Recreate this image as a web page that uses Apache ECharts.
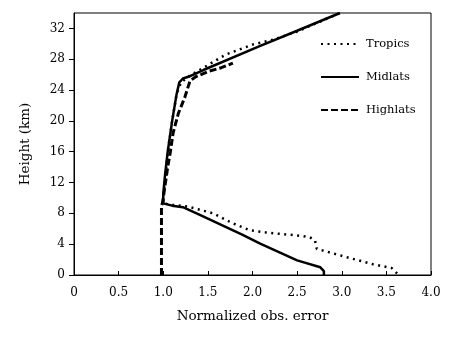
<!DOCTYPE html>
<html>
<head>
<meta charset="utf-8">
<script src="https://cdn.jsdelivr.net/npm/echarts@6/dist/echarts.min.js"></script>
<style>
html, body { margin: 0; padding: 0; background: #fff; }
#chart { width: 465px; height: 340px; }
</style>
</head>
<body>
<div id="chart"></div>
<script>
// 各纬度带的归一化观测误差廓线 [误差, 高度km]
var tropics = [
    [3.62, 0.2], [3.56, 0.9], [3.35, 1.4], [3.06, 2.3], [2.72, 3.4], [2.70, 4.5],
    [2.64, 4.9], [2.53, 5.1], [2.16, 5.5], [1.97, 5.8], [1.78, 6.7], [1.56, 8.0],
    [1.40, 8.5], [1.27, 8.9], [1.10, 9.1], [1.00, 9.3], [1.00, 10.5], [1.02, 12],
    [1.05, 16], [1.10, 20], [1.15, 23.5], [1.20, 25.0], [1.30, 25.9], [1.45, 26.9],
    [1.70, 28.6], [2.00, 29.9], [2.25, 30.6], [2.50, 31.6], [2.98, 34]
];
var midlats = [
    [2.80, 0.0], [2.80, 0.5], [2.76, 1.0], [2.50, 1.9], [2.08, 4.1], [1.89, 5.2],
    [1.41, 7.8], [1.22, 8.8], [1.10, 9.0], [1.00, 9.3], [1.00, 10.5], [1.02, 13],
    [1.05, 16], [1.10, 20], [1.15, 23.5], [1.18, 25.0], [1.22, 25.5], [1.30, 25.8],
    [1.45, 26.6], [2.08, 29.7], [2.50, 31.7], [2.98, 34]
];
var highlats = [
    [0.98, 0.0], [0.98, 9.0], [0.99, 9.3], [1.00, 10.0], [1.05, 14], [1.08, 16],
    [1.11, 18.4], [1.17, 21], [1.24, 23], [1.30, 25.2], [1.36, 25.7], [1.50, 26.4],
    [1.65, 26.9], [1.78, 27.5]
];
var seriesNames = ['Tropics', 'Midlats', 'Highlats'];
var xTicks = ['0', '0.5', '1.0', '1.5', '2.0', '2.5', '3.0', '3.5', '4.0'];

var font = 'DejaVu Serif';
var chart = echarts.init(document.getElementById('chart'));
var option = {
    animation: false,
    backgroundColor: '#fff',
    textStyle: { fontFamily: font },
    grid: {
        left: 74, right: 34, top: 13, bottom: 65,
        show: true, borderColor: '#000', borderWidth: 1
    },
    legend: {
        orient: 'vertical',
        left: 320, top: 38, padding: 0,
        itemWidth: 38, itemHeight: 14, itemGap: 21,
        itemStyle: { opacity: 0 },
        textStyle: { fontFamily: font, fontSize: 11.5, color: '#000', padding: [0, 0, 0, 2] },
        data: seriesNames
    },
    xAxis: {
        type: 'value', min: 0, max: 4, interval: 0.5,
        name: 'Normalized obs. error', nameLocation: 'middle', nameGap: 34,
        nameTextStyle: { fontFamily: font, fontSize: 13.5, color: '#000' },
        axisLine: { lineStyle: { color: '#000', width: 1 } },
        axisTick: { inside: true, length: 4, lineStyle: { color: '#000' } },
        axisLabel: {
            color: '#000', fontSize: 12, fontFamily: font, margin: 12,
            formatter: function (v) { return xTicks[Math.round(v / 0.5)]; }
        },
        splitLine: { show: false }
    },
    yAxis: {
        type: 'value', min: 0, max: 34, interval: 4,
        name: 'Height (km)', nameLocation: 'middle', nameGap: 42,
        nameTextStyle: { fontFamily: font, fontSize: 13.5, color: '#000' },
        axisLine: { lineStyle: { color: '#000', width: 1 } },
        axisTick: { length: 5, lineStyle: { color: '#000' } },
        axisLabel: { color: '#000', fontSize: 12, fontFamily: font, margin: 9, showMaxLabel: false },
        splitLine: { show: false }
    },
    series: [{
        name: 'Tropics', type: 'line', showSymbol: false, symbol: 'none',
        lineStyle: { color: '#000', width: 2.5, type: [2, 4.5] },
        itemStyle: { color: '#000' },
        data: tropics
    }, {
        name: 'Midlats', type: 'line', showSymbol: false, symbol: 'none',
        lineStyle: { color: '#000', width: 2.5, type: 'solid' },
        itemStyle: { color: '#000' },
        data: midlats
    }, {
        name: 'Highlats', type: 'line', showSymbol: false, symbol: 'none',
        lineStyle: { color: '#000', width: 3, type: [7, 3] },
        itemStyle: { color: '#000' },
        data: highlats
    }]
};
chart.setOption(option);
</script>
</body>
</html>
